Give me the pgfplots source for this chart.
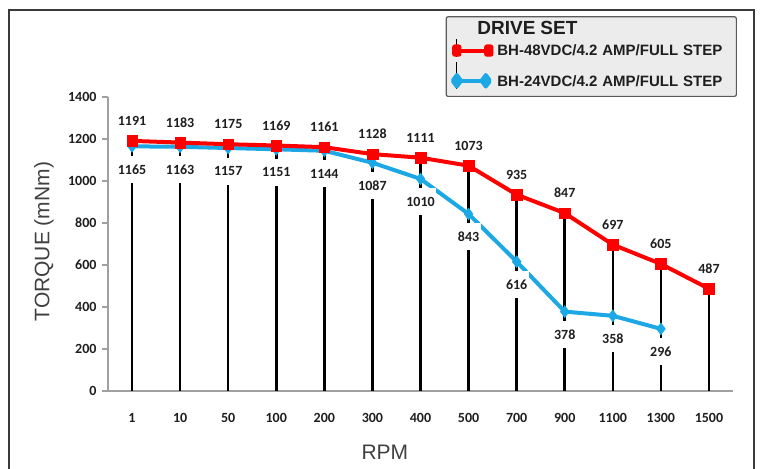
\documentclass[border=0pt]{standalone}
\usepackage{pgfplots}
\pgfplotsset{compat=1.18}
\usepackage{pgfplotstable}
\usepackage{fontspec}
\setmainfont{Carlito}
\newfontfamily\arial{Liberation Sans}

\definecolor{drvred}{RGB}{255,0,0}
\definecolor{drvblue}{RGB}{27,168,228}
\definecolor{axgray}{RGB}{160,160,160}
\definecolor{framegray}{RGB}{58,58,58}
\definecolor{legfill}{RGB}{236,236,236}
\definecolor{legdraw}{RGB}{90,90,90}
\definecolor{txt}{RGB}{30,30,30}
\definecolor{lbl}{RGB}{64,64,64}

% torque (mNm) against speed (RPM)
\pgfplotstableread{
idx rpm red blue
0 1 1191 1165
1 10 1183 1163
2 50 1175 1157
3 100 1169 1151
4 200 1161 1144
5 300 1128 1087
6 400 1111 1010
7 500 1073 843
8 700 935 616
9 900 847 378
10 1100 697 358
11 1300 605 296
12 1500 487 nan
}\torque

\begin{document}
\begin{tikzpicture}[x=1pt,y=1pt]
\useasboundingbox (0,0) rectangle (764,469);
\draw[framegray, line width=2pt] (9,-20) rectangle (754,459);
\begin{axis}[
    at={(108pt,78pt)}, anchor=south west,
    scale only axis, width=625pt, height=294pt,
    xmin=-0.5, xmax=12.5, ymin=0, ymax=1400,
    axis x line*=bottom, axis y line*=left,
    axis line style={axgray, line width=1.6pt, -},
    xtick={0,...,12},
    xticklabels={1,10,50,100,200,300,400,500,700,900,1100,1300,1500},
    ytick={0,200,...,1400},
    xtick style={draw=none},
    ytick style={axgray, line width=1.2pt},
    tick align=outside, major tick length=6pt,
    /pgf/number format/assume math mode=true,
    /pgf/number format/1000 sep={},
    tick label style={font=\fontsize{14}{16}\selectfont\bfseries, text=txt},
    xticklabel style={yshift=-13pt},
    yticklabel style={xshift=-2pt},
    xlabel={RPM}, ylabel={TORQUE (mNm)},
    every axis x label/.style={at={(axis description cs:0.443,-0.2075)}, anchor=center,
        font=\arial\fontsize{21}{24}\selectfont, text=lbl},
    every axis y label/.style={at={(axis description cs:-0.1024,0.508)}, rotate=90, anchor=center,
        font=\arial\fontsize{21}{24}\selectfont, text=lbl},
    clip=false,
    legend style={at={(1.0064,1)}, anchor=south east,
        draw=legdraw, fill=legfill, rounded corners=2pt, line width=1.2pt,
        inner xsep=4pt, inner ysep=7pt, row sep=4pt, column sep=4pt,
        nodes={inner sep=0pt, text height=10.5pt, text depth=0pt, text width=235pt, align=left,
            text=txt, font=\arial\bfseries\fontsize{15}{17}\selectfont},
        cells={anchor=west}},
  ]
  % blue series line
  \addplot[drvblue, line width=4pt, mark=diamond*, mark size=6pt,
      mark options={line width=0.4pt}, forget plot] table[x=idx, y=blue] {\torque};
  % black drop lines up to the red series
  \addplot[ycomb, black, line width=2.5pt, no marks, forget plot] table[x=idx, y=red] {\torque};
  % blue value labels (white boxes cut the drop lines)
  \addplot[draw=none, no marks, forget plot, nodes near coords,
      every node near coord/.style={anchor=center, yshift=-23pt, fill=white,
          minimum height=27pt, inner xsep=1.5pt, text=txt,
          font=\fontsize{14}{16}\selectfont\bfseries}] table[x=idx, y=blue] {\torque};
  % red series line
  \addplot[drvred, line width=4pt, mark=square*, mark size=5.3pt,
      mark options={line width=0.4pt}, forget plot] table[x=idx, y=red] {\torque};
  \addplot[draw=none, no marks, forget plot, nodes near coords,
      every node near coord/.style={anchor=center, yshift=20pt, text=txt,
          font=\fontsize{14}{16}\selectfont\bfseries}] table[x=idx, y=red] {\torque};

  \addlegendimage{empty legend}
  \addlegendentry{\fontsize{19}{21}\selectfont\hspace*{-20pt}DRIVE SET}
  \addlegendimage{legend image code/.code={
      \path (0pt,-6pt) -- (0pt,11.75pt);
      \draw[drvred, line width=4pt] (0pt,0pt) -- (32pt,0pt);
      \fill[drvred] (-4pt,-5.5pt) rectangle (4pt,5.5pt);
      \fill[drvred] (28pt,-5.5pt) rectangle (36pt,5.5pt);
  }}
  \addlegendentry{BH-48VDC/4.2 AMP/FULL STEP}
  \addlegendimage{legend image code/.code={
      \path (0pt,-8pt) -- (0pt,19pt);
      \draw[drvblue, line width=4pt] (0pt,0pt) -- (29pt,0pt);
      \fill[drvblue] (-6pt,0pt) -- (0pt,8pt) -- (6pt,0pt) -- (0pt,-8pt) -- cycle;
      \fill[drvblue] (23pt,0pt) -- (29pt,8pt) -- (35pt,0pt) -- (29pt,-8pt) -- cycle;
  }}
  \addlegendentry{BH-24VDC/4.2 AMP/FULL STEP}
\end{axis}
\end{tikzpicture}
\end{document}
